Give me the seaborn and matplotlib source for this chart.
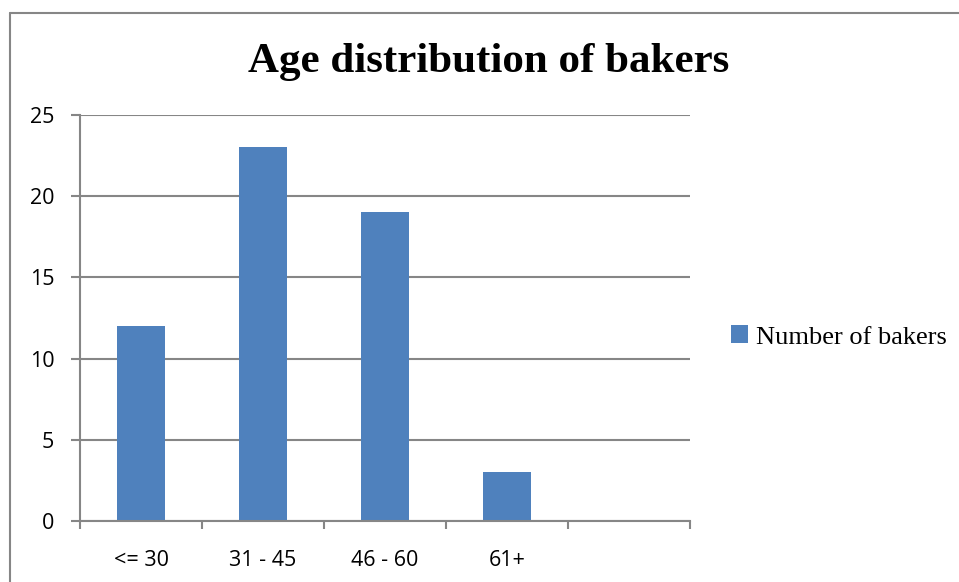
import matplotlib
matplotlib.use("Agg")
import matplotlib.pyplot as plt
from matplotlib.lines import Line2D
import numpy as np
import pandas as pd
import seaborn as sns

# data
age_groups = ["<= 30", "31 - 45", "46 - 60", "61+"]
bakers = [12, 23, 19, 3]
y_ticks = [0, 5, 10, 15, 20, 25]

bar_color = "#4F81BD"
line_gray = "#868686"

sns.set_theme(style="white")
plt.rcParams["font.family"] = ["Open Sans", "DejaVu Sans"]
plt.rcParams["text.color"] = "black"

df = pd.DataFrame({"age": age_groups, "count": bakers})

fig = plt.figure(figsize=(9.59, 5.82), dpi=100)
ax = fig.add_axes([80 / 959, 1 - 521 / 582, 610 / 959, 406 / 582])

sns.barplot(data=df, x="age", y="count", order=age_groups, color=bar_color,
            saturation=1, width=0.4, linewidth=0, label="Number of bakers", ax=ax)

# Excel style: a fifth empty category slot
ax.set_xlim(-0.5, 4.5)
ax.set_ylim(0, 25)
ax.set_yticks(y_ticks)
ax.set_xticks(range(len(age_groups)))
ax.set_xticklabels(age_groups)
ax.set_xticks(np.arange(-0.5, 5.0, 1.0), minor=True)
ax.set_xlabel("")
ax.set_ylabel("")

ax.yaxis.grid(True, color=line_gray, linewidth=1.5)
ax.set_axisbelow(True)
for s in ["top", "right"]:
    ax.spines[s].set_visible(False)
for s in ["left", "bottom"]:
    ax.spines[s].set_color(line_gray)
    ax.spines[s].set_linewidth(1.5)

ax.tick_params(axis="y", which="major", left=True, length=6.5, width=1.5,
               color=line_gray, pad=12, labelsize=15.5, labelcolor="black")
ax.tick_params(axis="x", which="major", bottom=False, length=0, pad=21,
               labelsize=15.5, labelcolor="black")
ax.tick_params(axis="x", which="minor", bottom=True, length=6, width=1.5,
               color=line_gray)

fig.text(489 / 959, 1 - 62 / 582, "Age distribution of bakers",
         ha="center", va="center", fontsize=31, fontweight="bold", color="black",
         family=["Liberation Serif", "DejaVu Serif"])

leg = ax.legend(loc="center left", bbox_to_anchor=(707 / 959, 1 - 337 / 582),
                bbox_transform=fig.transFigure, frameon=False,
                handlelength=0.65, handleheight=0.65, handletextpad=0.3,
                prop={"family": ["Liberation Serif", "DejaVu Serif"], "size": 19})
for t in leg.get_texts():
    t.set_color("black")

# outer chart frame (only left and top edges visible in the crop)
fig.add_artist(Line2D([10 / 959, 10 / 959], [0, 1 - 13 / 582],
                      color=line_gray, linewidth=1.5, transform=fig.transFigure))
fig.add_artist(Line2D([10 / 959, 1], [1 - 13 / 582, 1 - 13 / 582],
                      color=line_gray, linewidth=1.5, transform=fig.transFigure))

fig.savefig("out.png", dpi=100, facecolor="white")
